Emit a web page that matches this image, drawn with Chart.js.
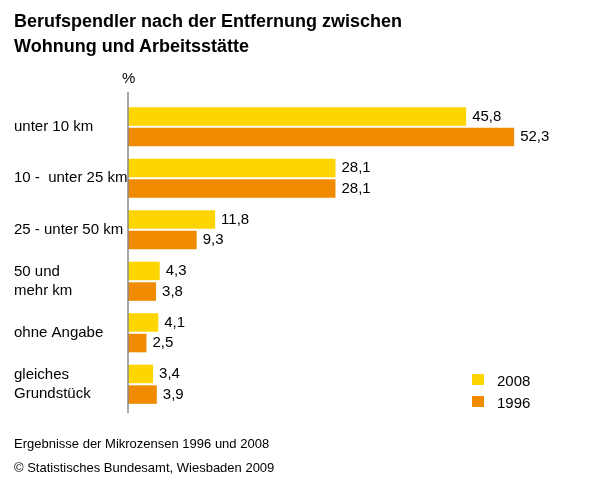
<!DOCTYPE html>
<html><head><meta charset="utf-8">
<script src="https://cdn.jsdelivr.net/npm/chart.js@4"></script>
<style>
html,body{margin:0;padding:0;background:#fff;}
body{width:597px;height:489px;position:relative;overflow:hidden;font-family:"Liberation Sans",Arial,sans-serif;color:#000;}
#wrap{position:absolute;left:0;top:0;width:597px;height:489px;}
.t{position:absolute;white-space:nowrap;}
#title{left:14px;top:9px;font-weight:bold;font-size:18px;line-height:25px;}
#pct{left:122px;top:69px;font-size:15px;line-height:17px;}
.note{left:14px;font-size:13px;}
.leg{position:absolute;font-size:15px;line-height:17px;}
.sw{position:absolute;width:12px;height:11px;}
</style></head>
<body>
<div id="wrap"><canvas id="c" width="597" height="489"></canvas></div>
<div class="t" id="title">Berufspendler nach der Entfernung zwischen<br>Wohnung und Arbeitsstätte</div>
<div class="t" id="pct">%</div>
<div class="t note" style="top:436px">Ergebnisse der Mikrozensen 1996 und 2008</div>
<div class="t note" style="top:460px">© Statistisches Bundesamt, Wiesbaden 2009</div>
<div id="legend"></div>
<script>
const categories = [
  "unter 10 km",
  "10 -  unter 25 km",
  "25 - unter 50 km",
  ["50 und", "mehr km"],
  "ohne Angabe",
  ["gleiches", "Grundstück"]
];
const seriesNames = ["2008", "1996"];
const values2008 = [45.8, 28.1, 11.8, 4.3, 4.1, 3.4];
const values1996 = [52.3, 28.1, 9.3, 3.8, 2.5, 3.9];
const colors = ["#FFD500", "#F08B00"];

const fmt = v => v.toFixed(1).replace('.', ',');

const valueLabels = {
  id: 'valueLabels',
  afterDatasetsDraw(chart) {
    const ctx = chart.ctx;
    ctx.save();
    ctx.font = '15px "Liberation Sans", Arial, sans-serif';
    ctx.fillStyle = '#000';
    ctx.textBaseline = 'middle';
    ctx.textAlign = 'left';
    chart.data.datasets.forEach((ds, i) => {
      chart.getDatasetMeta(i).data.forEach((bar, j) => {
        ctx.fillText(fmt(ds.data[j]), bar.x + 6, bar.y);
      });
    });
    ctx.restore();
  }
};
const axisLine = {
  id: 'axisLine',
  afterDatasetsDraw(chart) {
    const ctx = chart.ctx, a = chart.chartArea;
    ctx.save();
    ctx.strokeStyle = '#8a8a8a';
    ctx.lineWidth = 1.5;
    ctx.beginPath();
    ctx.moveTo(a.left, a.top - 9);
    ctx.lineTo(a.left, a.bottom + 3);
    ctx.stroke();
    ctx.restore();
  }
};

new Chart(document.getElementById('c'), {
  type: 'bar',
  data: {
    labels: categories,
    datasets: [
      { label: seriesNames[0], data: values2008, backgroundColor: colors[0] },
      { label: seriesNames[1], data: values1996, backgroundColor: colors[1] }
    ]
  },
  options: {
    indexAxis: 'y',
    responsive: false,
    animation: false,
    devicePixelRatio: 1,
    categoryPercentage: 0.8,
    barPercentage: 0.9,
    layout: { padding: { left: 14, right: 26, top: 101, bottom: 79 } },
    plugins: { legend: { display: false }, tooltip: { enabled: false } },
    scales: {
      x: { display: false, min: 0, max: 60 },
      y: {
        grid: { display: false, drawTicks: false },
        border: { display: false },
        ticks: {
          crossAlign: 'far',
          padding: 0,
          color: '#000',
          font: { family: '"Liberation Sans", Arial, sans-serif', size: 15, lineHeight: 1.27 }
        },
        afterFit(scale) { scale.width = 114; }
      }
    }
  },
  plugins: [valueLabels, axisLine]
});

const leg = document.getElementById('legend');
const legTops = [374, 396];
seriesNames.forEach((n, i) => {
  const sw = document.createElement('div');
  sw.className = 'sw';
  sw.style.left = '472px'; sw.style.top = legTops[i] + 'px';
  sw.style.background = colors[i];
  leg.appendChild(sw);
  const tx = document.createElement('div');
  tx.className = 'leg';
  tx.style.left = '497px'; tx.style.top = (legTops[i] - 2) + 'px';
  tx.textContent = n;
  leg.appendChild(tx);
});
</script>
</body></html>
